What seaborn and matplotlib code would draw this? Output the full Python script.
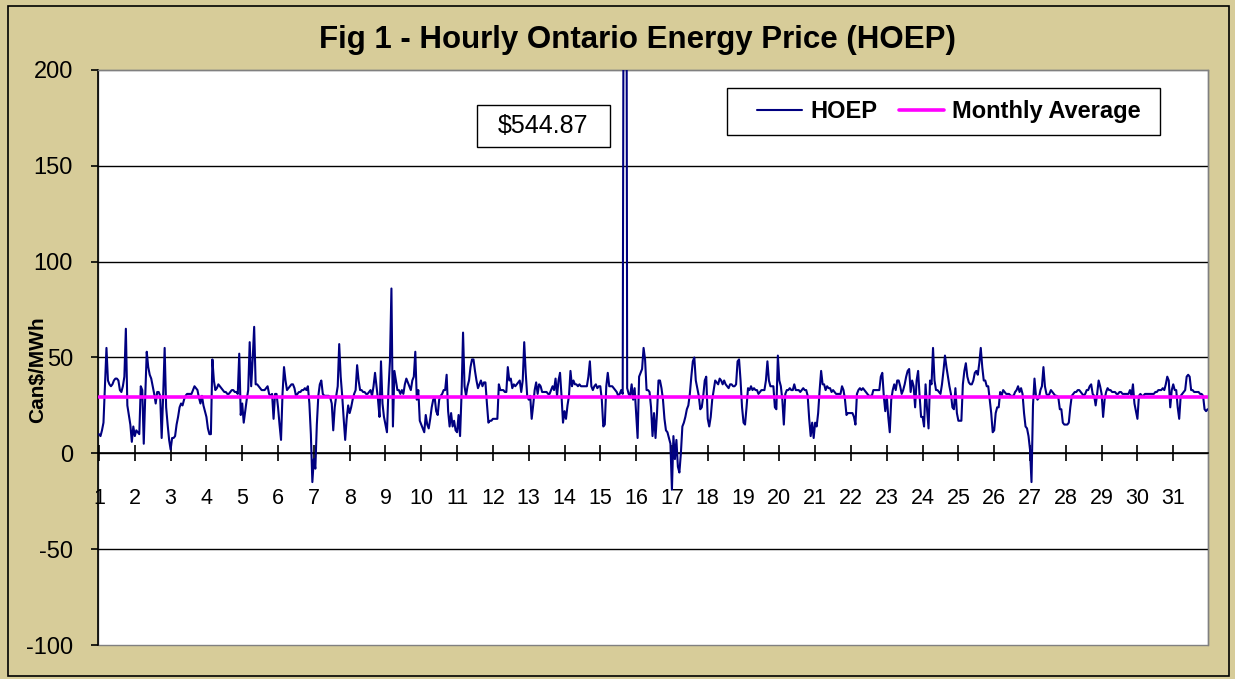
import numpy as np
import pandas as pd
import matplotlib
matplotlib.use("Agg")
import matplotlib.pyplot as plt
from matplotlib.patches import Rectangle
import seaborn as sns

# ---------------- data ----------------
title = "Fig 1 - Hourly Ontario Energy Price (HOEP)"
y_label = "Can$/MWh"
series_names = ["HOEP", "Monthly Average"]
day_labels = [str(d) for d in range(1, 32)]
y_ticks = [-100, -50, 0, 50, 100, 150, 200]
monthly_average = 29.6
spike_label = "$544.87"

# hourly prices, one list per day (24 hours each)
d01 = [10, 9, 12, 16, 35, 55, 38, 36, 35, 36, 38, 39, 39, 38, 33, 32, 35, 40, 65, 25, 20, 15, 6, 14]
d02 = [9, 12, 11, 10, 35, 33, 5, 30, 53, 45, 41, 39, 35, 31, 26, 32, 32, 30, 8, 30, 55, 24, 15, 7]
d03 = [2, 8, 8, 9, 15, 19, 24, 26, 25, 28, 30, 31, 31, 31, 31, 33, 35, 34, 33, 29, 26, 30, 25, 22]
d04 = [19, 13, 10, 10, 49, 38, 33, 34, 36, 35, 34, 33, 32, 32, 31, 31, 32, 33, 33, 32, 32, 31, 52, 20]
d05 = [26, 16, 22, 28, 33, 58, 35, 49, 66, 36, 36, 35, 34, 33, 33, 33, 34, 35, 31, 30, 31, 18, 31, 31]
d06 = [24, 15, 7, 31, 45, 38, 33, 34, 35, 36, 36, 34, 30, 31, 32, 32, 33, 33, 34, 33, 35, 26, 10, -15]
d07 = [-3, -8, 15, 30, 36, 38, 31, 30, 30, 30, 30, 29, 26, 12, 24, 30, 35, 57, 40, 30, 18, 7, 18, 25]
d08 = [21, 24, 28, 31, 33, 46, 38, 33, 33, 32, 32, 31, 31, 32, 33, 30, 35, 42, 35, 28, 19, 48, 26, 19]
d09 = [15, 11, 33, 48, 86, 14, 43, 38, 33, 33, 31, 33, 31, 36, 39, 37, 35, 33, 38, 40, 53, 28, 33, 17]
d10 = [15, 13, 11, 20, 15, 13, 18, 24, 28, 29, 22, 20, 28, 30, 31, 33, 33, 41, 22, 14, 21, 14, 17, 12]
d11 = [11, 20, 9, 31, 63, 35, 30, 35, 38, 45, 49, 49, 43, 38, 34, 36, 38, 35, 37, 37, 26, 16, 17, 17]
d12 = [18, 18, 18, 18, 36, 33, 33, 33, 32, 32, 45, 38, 39, 34, 36, 35, 36, 37, 38, 32, 38, 58, 42, 30]
d13 = [28, 30, 18, 25, 33, 37, 31, 36, 35, 32, 32, 32, 32, 31, 31, 33, 35, 33, 39, 30, 38, 42, 30, 16]
d14 = [22, 18, 25, 30, 43, 35, 38, 36, 36, 35, 36, 35, 35, 35, 35, 35, 40, 48, 35, 33, 35, 36, 34, 35]
d15 = [35, 28, 14, 15, 35, 42, 35, 35, 35, 34, 33, 32, 30, 31, 33, 31, 400, 544.87, 34, 31, 30, 36, 28, 34]
d16 = [21, 8, 40, 42, 44, 55, 49, 33, 33, 32, 24, 9, 21, 8, 21, 38, 38, 34, 28, 18, 12, 11, 8, 5]
d17 = [-19, 9, -3, 7, -7, -10, 0, 14, 16, 19, 23, 25, 31, 40, 48, 50, 38, 34, 30, 23, 24, 30, 38, 40]
d18 = [18, 14, 19, 28, 33, 38, 37, 36, 39, 38, 36, 38, 36, 35, 34, 36, 36, 35, 35, 36, 48, 49, 38, 24]
d19 = [16, 15, 24, 34, 33, 35, 33, 34, 33, 33, 31, 32, 33, 33, 33, 38, 48, 38, 35, 35, 35, 24, 23, 51]
d20 = [38, 35, 28, 15, 31, 33, 33, 34, 33, 33, 36, 33, 33, 33, 32, 33, 34, 33, 33, 30, 18, 9, 16, 8]
d21 = [16, 14, 21, 33, 43, 36, 36, 33, 35, 34, 34, 32, 33, 32, 31, 31, 31, 31, 35, 33, 28, 20, 21, 21]
d22 = [21, 21, 19, 15, 31, 33, 34, 33, 34, 33, 32, 31, 30, 30, 30, 33, 33, 33, 33, 33, 40, 42, 30, 22]
d23 = [30, 19, 11, 28, 33, 36, 33, 38, 38, 35, 31, 33, 36, 40, 43, 44, 32, 38, 35, 24, 38, 43, 30, 19]
d24 = [19, 14, 36, 23, 13, 38, 36, 55, 38, 33, 33, 32, 31, 36, 43, 51, 45, 40, 35, 31, 24, 23, 34, 21]
d25 = [17, 17, 17, 36, 43, 47, 40, 37, 36, 36, 38, 42, 43, 41, 47, 55, 45, 38, 38, 35, 35, 28, 21, 11]
d26 = [12, 21, 24, 24, 32, 30, 33, 32, 31, 31, 31, 30, 30, 30, 32, 33, 35, 32, 34, 31, 21, 14, 13, 9]
d27 = [2, -15, 25, 39, 30, 28, 29, 33, 35, 45, 35, 31, 30, 31, 33, 32, 31, 30, 30, 29, 23, 23, 16, 15]
d28 = [15, 15, 16, 24, 30, 31, 32, 32, 33, 33, 32, 31, 30, 31, 33, 33, 35, 36, 31, 30, 25, 31, 38, 35]
d29 = [31, 19, 28, 32, 34, 33, 33, 32, 32, 32, 31, 31, 32, 32, 31, 31, 31, 31, 31, 33, 30, 36, 26, 22]
d30 = [18, 30, 31, 30, 30, 31, 31, 31, 31, 31, 31, 31, 32, 32, 33, 33, 33, 34, 33, 36, 40, 38, 24, 33]
d31 = [36, 33, 33, 24, 18, 30, 31, 32, 33, 40, 41, 40, 33, 33, 32, 32, 32, 32, 31, 31, 30, 23, 22, 23]

days = [d01, d02, d03, d04, d05, d06, d07, d08, d09, d10, d11, d12, d13, d14, d15, d16,
        d17, d18, d19, d20, d21, d22, d23, d24, d25, d26, d27, d28, d29, d30, d31]
hoep = [v for day in days for v in day]
hours = np.arange(len(hoep))
df = pd.DataFrame({"hour": hours, "price": hoep, "average": monthly_average})

# ---------------- style ----------------
W, H = 1235, 679
tan = "#D7CC99"
sns.set_theme(style="white")
plt.rcParams["font.family"] = ["Liberation Sans", "DejaVu Sans"]
plt.rcParams["text.color"] = "black"
plt.rcParams["xtick.color"] = "black"
plt.rcParams["ytick.color"] = "black"
plt.rcParams["axes.labelcolor"] = "black"

fig = plt.figure(figsize=(W / 100, H / 100), dpi=100, facecolor=tan)
ax = fig.add_axes([98 / W, 1 - 645 / H, 1110 / W, 575 / H])
ax.set_facecolor("white")

sns.lineplot(data=df, x="hour", y="price", ax=ax, color="#000080", linewidth=1.5,
             errorbar=None, label=series_names[0], zorder=3)
sns.lineplot(data=df, x="hour", y="average", ax=ax, color="#FF00FF", linewidth=2.6,
             errorbar=None, label=series_names[1], zorder=4)

ax.set_xlim(-0.67, 743.3)
ax.set_ylim(-100, 200)
ax.set_yticks(y_ticks)
ax.set_yticklabels([str(t) for t in y_ticks])
ax.set_xticks(np.arange(len(day_labels)) * 24)
ax.set_xticklabels(day_labels)
ax.set_xlabel("")
ax.set_ylabel("")

# spines
ax.spines["bottom"].set_position(("data", 0))
ax.spines["bottom"].set_color("black")
ax.spines["bottom"].set_linewidth(1.2)
ax.spines["left"].set_color("black")
ax.spines["left"].set_linewidth(1.2)
for s in ("top", "right"):
    ax.spines[s].set_color("#808080")
    ax.spines[s].set_linewidth(1)
ax.add_patch(Rectangle((0, 0), 1, 1, transform=ax.transAxes, fill=False,
                       edgecolor="#808080", linewidth=1, zorder=0.5, clip_on=False))

# grid
ax.yaxis.grid(True, color="black", linewidth=1)
ax.xaxis.grid(False)
ax.set_axisbelow(True)
for t in ax.yaxis.get_major_ticks():
    if t.get_loc() in (y_ticks[0], y_ticks[-1]):
        t.gridline.set_visible(False)

ax.tick_params(axis="y", direction="out", length=5, width=1.2, color="black",
               pad=13, labelsize=17, left=True)
ax.tick_params(axis="x", direction="inout", length=11, width=1.2, color="black",
               pad=19.5, labelsize=15.5, bottom=True)

# legend (frame drawn separately to match the asymmetric padding)
ax.add_patch(Rectangle((727 / W, 1 - 135 / H), 433 / W, 47 / H, transform=fig.transFigure,
                       facecolor="white", edgecolor="black", linewidth=1, zorder=4.8,
                       clip_on=False))
leg = ax.legend(loc="center left", bbox_to_anchor=((757 - 98) / 1110, (645 - 111.5) / 575),
                ncol=2, frameon=False, prop={"weight": "bold", "size": 17},
                handlelength=1.9, handletextpad=0.34, columnspacing=0.93, borderpad=0,
                borderaxespad=0)
leg.set_zorder(5)

# spike value box
ax.add_patch(Rectangle((477 / W, 1 - 147 / H), 133 / W, 42 / H, transform=fig.transFigure,
                       facecolor="white", edgecolor="black", linewidth=1, zorder=5,
                       clip_on=False))
ax.text(543.5 / W, 1 - 126 / H, spike_label, transform=fig.transFigure, fontsize=18,
        ha="center", va="center", zorder=6)

# title and y label
fig.text(637 / W, 1 - 40 / H, title, fontsize=22.5, fontweight="bold", ha="center", va="center")
fig.text(38 / W, 1 - 370 / H, y_label, fontsize=15, fontweight="bold", rotation=90,
         ha="center", va="center")

# chart border
fig.patches.append(Rectangle((8 / W, 1 - 676 / H), 1221 / W, 670 / H, transform=fig.transFigure,
                             fill=False, edgecolor="black", linewidth=1.2))

fig.savefig("out.png", dpi=100, facecolor=fig.get_facecolor())
